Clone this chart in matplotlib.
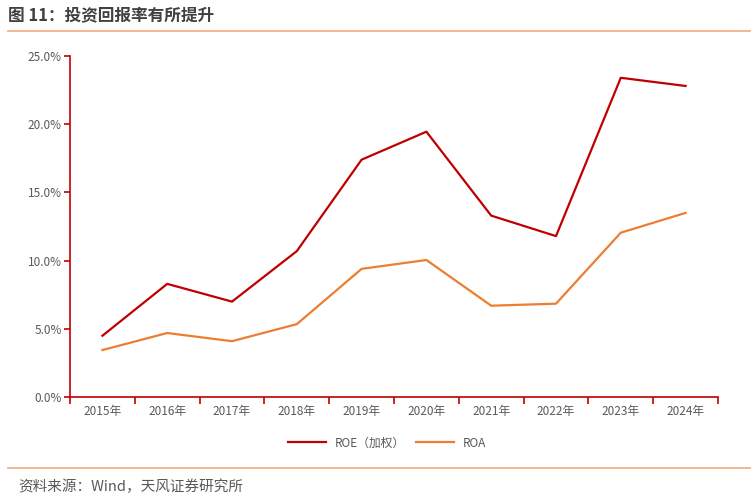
import matplotlib
matplotlib.use('Agg')
import matplotlib.pyplot as plt
from matplotlib.lines import Line2D
from matplotlib.ticker import FuncFormatter

plt.rcParams['font.family'] = ['Noto Sans CJK SC', 'DejaVu Sans']

years = ['2015年', '2016年', '2017年', '2018年', '2019年', '2020年', '2021年', '2022年', '2023年', '2024年']
roe = [4.5, 8.3, 7.0, 10.7, 17.4, 19.45, 13.3, 11.8, 23.4, 22.8]
roa = [3.45, 4.7, 4.1, 5.35, 9.4, 10.05, 6.7, 6.85, 12.05, 13.5]

red = '#C00000'
orange = '#ED7D31'
grey = '#595959'

fig = plt.figure(figsize=(7.53, 5.04), dpi=100)
ax = fig.add_axes([0.093, 0.212, 0.8605, 0.677])

x = range(len(years))
ax.plot(x, roe, color=red, linewidth=1.6, label='ROE（加权）')
ax.plot(x, roa, color=orange, linewidth=1.6, label='ROA')

ax.set_xlim(-0.5, len(years) - 0.5)
ax.set_ylim(0, 25)
ax.set_yticks([0, 5, 10, 15, 20, 25])
ax.yaxis.set_major_formatter(FuncFormatter(lambda v, p: f'{v:.1f}%'))
ax.set_xticks([i + 0.5 for i in range(-1, len(years))])
ax.set_xticklabels([])
ax.set_xticks(list(x), minor=True)
ax.set_xticklabels(years, minor=True)
ax.tick_params(axis='x', which='minor', length=0, pad=6, labelsize=8.5, labelcolor=grey)
ax.tick_params(axis='x', which='major', direction='out', length=5, color=red, width=1.2)
ax.tick_params(axis='y', direction='out', length=4, color=red, width=1.2, pad=2,
               labelsize=8.5, labelcolor=grey)

for s in ['top', 'right']:
    ax.spines[s].set_visible(False)
for s in ['left', 'bottom']:
    ax.spines[s].set_color(red)
    ax.spines[s].set_linewidth(1.2)

handles = [Line2D([], [], color=red, linewidth=1.6), Line2D([], [], color=orange, linewidth=1.6)]
fig.legend(handles, ['ROE（加权）', 'ROA'], loc='center', bbox_to_anchor=(0.514, 0.121),
           ncol=2, frameon=False, fontsize=8.5, labelcolor=grey, handlelength=3.2,
           handletextpad=0.7, columnspacing=1.0)

fig.text(0.011, 0.968, '图 11：投资回报率有所提升', fontsize=12, fontweight='bold', color='#404040', va='center')
fig.add_artist(Line2D([0.011, 0.996], [0.938, 0.938], color='#F4B183', linewidth=1.3))
fig.add_artist(Line2D([0.011, 0.996], [0.071, 0.071], color='#F4B183', linewidth=1.3))
fig.text(0.024, 0.034, '资料来源：Wind，天风证券研究所', fontsize=10.5, color=grey, va='center')

fig.savefig('out.png', dpi=100)
